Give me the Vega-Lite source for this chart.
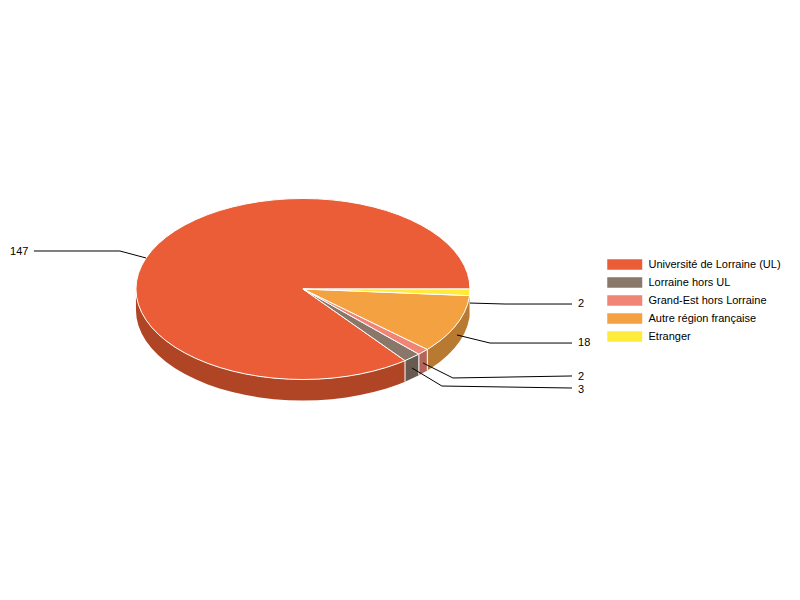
{
  "$schema": "https://vega.github.io/schema/vega-lite/v6.json",
  "autosize": {"type": "fit", "contains": "padding"},
  "width": 800,
  "height": 600,
  "padding": 0,
  "background": "white",
  "view": {"stroke": null},
  "config": {"font": "Liberation Sans"},
  "datasets": {
    "cote": [
      {"part":"UL côté","i":0,"x":0.6111,"y":0.7916},{"part":"UL côté","i":1,"x":0.5736,"y":0.8192},{"part":"UL côté","i":2,"x":0.5,"y":0.866},{"part":"UL côté","i":3,"x":0.4226,"y":0.9063},{"part":"UL côté","i":4,"x":0.342,"y":0.9397},{"part":"UL côté","i":5,"x":0.2588,"y":0.9659},{"part":"UL côté","i":6,"x":0.1736,"y":0.9848},{"part":"UL côté","i":7,"x":0.0872,"y":0.9962},{"part":"UL côté","i":8,"x":0,"y":1},{"part":"UL côté","i":9,"x":-0.0872,"y":0.9962},{"part":"UL côté","i":10,"x":-0.1736,"y":0.9848},{"part":"UL côté","i":11,"x":-0.2588,"y":0.9659},{"part":"UL côté","i":12,"x":-0.342,"y":0.9397},{"part":"UL côté","i":13,"x":-0.4226,"y":0.9063},{"part":"UL côté","i":14,"x":-0.5,"y":0.866},{"part":"UL côté","i":15,"x":-0.5736,"y":0.8192},{"part":"UL côté","i":16,"x":-0.6428,"y":0.766},{"part":"UL côté","i":17,"x":-0.7071,"y":0.7071},{"part":"UL côté","i":18,"x":-0.766,"y":0.6428},{"part":"UL côté","i":19,"x":-0.8192,"y":0.5736},{"part":"UL côté","i":20,"x":-0.866,"y":0.5},{"part":"UL côté","i":21,"x":-0.9063,"y":0.4226},{"part":"UL côté","i":22,"x":-0.9397,"y":0.342},{"part":"UL côté","i":23,"x":-0.9659,"y":0.2588},{"part":"UL côté","i":24,"x":-0.9848,"y":0.1736},{"part":"UL côté","i":25,"x":-0.9962,"y":0.0872},{"part":"UL côté","i":26,"x":-1,"y":0},
      {"part":"UL côté","i":27,"x":-1,"y":0.232},{"part":"UL côté","i":28,"x":-0.9962,"y":0.3192},{"part":"UL côté","i":29,"x":-0.9848,"y":0.4056},{"part":"UL côté","i":30,"x":-0.9659,"y":0.4908},{"part":"UL côté","i":31,"x":-0.9397,"y":0.574},{"part":"UL côté","i":32,"x":-0.9063,"y":0.6546},{"part":"UL côté","i":33,"x":-0.866,"y":0.732},{"part":"UL côté","i":34,"x":-0.8192,"y":0.8056},{"part":"UL côté","i":35,"x":-0.766,"y":0.8748},{"part":"UL côté","i":36,"x":-0.7071,"y":0.9391},{"part":"UL côté","i":37,"x":-0.6428,"y":0.998},{"part":"UL côté","i":38,"x":-0.5736,"y":1.0512},{"part":"UL côté","i":39,"x":-0.5,"y":1.098},{"part":"UL côté","i":40,"x":-0.4226,"y":1.1383},{"part":"UL côté","i":41,"x":-0.342,"y":1.1717},{"part":"UL côté","i":42,"x":-0.2588,"y":1.1979},{"part":"UL côté","i":43,"x":-0.1736,"y":1.2168},{"part":"UL côté","i":44,"x":-0.0872,"y":1.2282},{"part":"UL côté","i":45,"x":0,"y":1.232},{"part":"UL côté","i":46,"x":0.0872,"y":1.2282},{"part":"UL côté","i":47,"x":0.1736,"y":1.2168},{"part":"UL côté","i":48,"x":0.2588,"y":1.1979},{"part":"UL côté","i":49,"x":0.342,"y":1.1717},{"part":"UL côté","i":50,"x":0.4226,"y":1.1383},{"part":"UL côté","i":51,"x":0.5,"y":1.098},{"part":"UL côté","i":52,"x":0.5736,"y":1.0512},{"part":"UL côté","i":53,"x":0.6111,"y":1.0236},{"part":"UL côté","i":54,"x":0.6111,"y":0.7916},
      {"part":"hors UL côté","i":0,"x":0.694,"y":0.72},{"part":"hors UL côté","i":1,"x":0.6111,"y":0.7916},{"part":"hors UL côté","i":2,"x":0.6111,"y":1.0236},{"part":"hors UL côté","i":3,"x":0.694,"y":0.952},{"part":"hors UL côté","i":4,"x":0.694,"y":0.72},
      {"part":"Grand-Est côté","i":0,"x":0.7446,"y":0.6675},{"part":"Grand-Est côté","i":1,"x":0.694,"y":0.72},{"part":"Grand-Est côté","i":2,"x":0.694,"y":0.952},{"part":"Grand-Est côté","i":3,"x":0.7446,"y":0.8995},{"part":"Grand-Est côté","i":4,"x":0.7446,"y":0.6675},
      {"part":"Autre côté","i":0,"x":0.9973,"y":0.0731},{"part":"Autre côté","i":1,"x":0.9962,"y":0.0872},{"part":"Autre côté","i":2,"x":0.9848,"y":0.1736},{"part":"Autre côté","i":3,"x":0.9659,"y":0.2588},{"part":"Autre côté","i":4,"x":0.9397,"y":0.342},{"part":"Autre côté","i":5,"x":0.9063,"y":0.4226},{"part":"Autre côté","i":6,"x":0.866,"y":0.5},{"part":"Autre côté","i":7,"x":0.8192,"y":0.5736},{"part":"Autre côté","i":8,"x":0.766,"y":0.6428},{"part":"Autre côté","i":9,"x":0.7446,"y":0.6675},{"part":"Autre côté","i":10,"x":0.7446,"y":0.8995},{"part":"Autre côté","i":11,"x":0.766,"y":0.8748},{"part":"Autre côté","i":12,"x":0.8192,"y":0.8056},{"part":"Autre côté","i":13,"x":0.866,"y":0.732},{"part":"Autre côté","i":14,"x":0.9063,"y":0.6546},{"part":"Autre côté","i":15,"x":0.9397,"y":0.574},{"part":"Autre côté","i":16,"x":0.9659,"y":0.4908},{"part":"Autre côté","i":17,"x":0.9848,"y":0.4056},{"part":"Autre côté","i":18,"x":0.9962,"y":0.3192},{"part":"Autre côté","i":19,"x":0.9973,"y":0.3051},{"part":"Autre côté","i":20,"x":0.9973,"y":0.0731}
    ],
    "coupes": [
      {"c":"a","x":0.6111,"y":0.7916},{"c":"a","x":0.6111,"y":1.0236},
      {"c":"b","x":0.694,"y":0.72},{"c":"b","x":0.694,"y":0.952},
      {"c":"d","x":0.7446,"y":0.6675},{"c":"d","x":0.7446,"y":0.8995}
    ],
    "dessus": [
      {"part":"Université de Lorraine (UL)","i":0,"x":0,"y":0},{"part":"Université de Lorraine (UL)","i":1,"x":0.6111,"y":0.7916},{"part":"Université de Lorraine (UL)","i":2,"x":0.5736,"y":0.8192},{"part":"Université de Lorraine (UL)","i":3,"x":0.5,"y":0.866},{"part":"Université de Lorraine (UL)","i":4,"x":0.4226,"y":0.9063},{"part":"Université de Lorraine (UL)","i":5,"x":0.342,"y":0.9397},{"part":"Université de Lorraine (UL)","i":6,"x":0.2588,"y":0.9659},{"part":"Université de Lorraine (UL)","i":7,"x":0.1736,"y":0.9848},{"part":"Université de Lorraine (UL)","i":8,"x":0.0872,"y":0.9962},{"part":"Université de Lorraine (UL)","i":9,"x":0,"y":1},{"part":"Université de Lorraine (UL)","i":10,"x":-0.0872,"y":0.9962},{"part":"Université de Lorraine (UL)","i":11,"x":-0.1736,"y":0.9848},{"part":"Université de Lorraine (UL)","i":12,"x":-0.2588,"y":0.9659},{"part":"Université de Lorraine (UL)","i":13,"x":-0.342,"y":0.9397},{"part":"Université de Lorraine (UL)","i":14,"x":-0.4226,"y":0.9063},{"part":"Université de Lorraine (UL)","i":15,"x":-0.5,"y":0.866},{"part":"Université de Lorraine (UL)","i":16,"x":-0.5736,"y":0.8192},{"part":"Université de Lorraine (UL)","i":17,"x":-0.6428,"y":0.766},{"part":"Université de Lorraine (UL)","i":18,"x":-0.7071,"y":0.7071},{"part":"Université de Lorraine (UL)","i":19,"x":-0.766,"y":0.6428},{"part":"Université de Lorraine (UL)","i":20,"x":-0.8192,"y":0.5736},{"part":"Université de Lorraine (UL)","i":21,"x":-0.866,"y":0.5},{"part":"Université de Lorraine (UL)","i":22,"x":-0.9063,"y":0.4226},{"part":"Université de Lorraine (UL)","i":23,"x":-0.9397,"y":0.342},{"part":"Université de Lorraine (UL)","i":24,"x":-0.9659,"y":0.2588},{"part":"Université de Lorraine (UL)","i":25,"x":-0.9848,"y":0.1736},{"part":"Université de Lorraine (UL)","i":26,"x":-0.9962,"y":0.0872},{"part":"Université de Lorraine (UL)","i":27,"x":-1,"y":0},{"part":"Université de Lorraine (UL)","i":28,"x":-0.9962,"y":-0.0872},{"part":"Université de Lorraine (UL)","i":29,"x":-0.9848,"y":-0.1736},{"part":"Université de Lorraine (UL)","i":30,"x":-0.9659,"y":-0.2588},{"part":"Université de Lorraine (UL)","i":31,"x":-0.9397,"y":-0.342},{"part":"Université de Lorraine (UL)","i":32,"x":-0.9063,"y":-0.4226},{"part":"Université de Lorraine (UL)","i":33,"x":-0.866,"y":-0.5},{"part":"Université de Lorraine (UL)","i":34,"x":-0.8192,"y":-0.5736},{"part":"Université de Lorraine (UL)","i":35,"x":-0.766,"y":-0.6428},{"part":"Université de Lorraine (UL)","i":36,"x":-0.7071,"y":-0.7071},{"part":"Université de Lorraine (UL)","i":37,"x":-0.6428,"y":-0.766},{"part":"Université de Lorraine (UL)","i":38,"x":-0.5736,"y":-0.8192},{"part":"Université de Lorraine (UL)","i":39,"x":-0.5,"y":-0.866},{"part":"Université de Lorraine (UL)","i":40,"x":-0.4226,"y":-0.9063},{"part":"Université de Lorraine (UL)","i":41,"x":-0.342,"y":-0.9397},{"part":"Université de Lorraine (UL)","i":42,"x":-0.2588,"y":-0.9659},{"part":"Université de Lorraine (UL)","i":43,"x":-0.1736,"y":-0.9848},{"part":"Université de Lorraine (UL)","i":44,"x":-0.0872,"y":-0.9962},{"part":"Université de Lorraine (UL)","i":45,"x":0,"y":-1},{"part":"Université de Lorraine (UL)","i":46,"x":0.0872,"y":-0.9962},{"part":"Université de Lorraine (UL)","i":47,"x":0.1736,"y":-0.9848},{"part":"Université de Lorraine (UL)","i":48,"x":0.2588,"y":-0.9659},{"part":"Université de Lorraine (UL)","i":49,"x":0.342,"y":-0.9397},{"part":"Université de Lorraine (UL)","i":50,"x":0.4226,"y":-0.9063},{"part":"Université de Lorraine (UL)","i":51,"x":0.5,"y":-0.866},{"part":"Université de Lorraine (UL)","i":52,"x":0.5736,"y":-0.8192},{"part":"Université de Lorraine (UL)","i":53,"x":0.6428,"y":-0.766},{"part":"Université de Lorraine (UL)","i":54,"x":0.7071,"y":-0.7071},{"part":"Université de Lorraine (UL)","i":55,"x":0.766,"y":-0.6428},{"part":"Université de Lorraine (UL)","i":56,"x":0.8192,"y":-0.5736},{"part":"Université de Lorraine (UL)","i":57,"x":0.866,"y":-0.5},{"part":"Université de Lorraine (UL)","i":58,"x":0.9063,"y":-0.4226},{"part":"Université de Lorraine (UL)","i":59,"x":0.9397,"y":-0.342},{"part":"Université de Lorraine (UL)","i":60,"x":0.9659,"y":-0.2588},{"part":"Université de Lorraine (UL)","i":61,"x":0.9848,"y":-0.1736},{"part":"Université de Lorraine (UL)","i":62,"x":0.9962,"y":-0.0872},{"part":"Université de Lorraine (UL)","i":63,"x":1,"y":0},{"part":"Université de Lorraine (UL)","i":64,"x":0,"y":0},
      {"part":"Lorraine hors UL","i":0,"x":0,"y":0},{"part":"Lorraine hors UL","i":1,"x":0.694,"y":0.72},{"part":"Lorraine hors UL","i":2,"x":0.6111,"y":0.7916},{"part":"Lorraine hors UL","i":3,"x":0,"y":0},
      {"part":"Grand-Est hors Lorraine","i":0,"x":0,"y":0},{"part":"Grand-Est hors Lorraine","i":1,"x":0.7446,"y":0.6675},{"part":"Grand-Est hors Lorraine","i":2,"x":0.694,"y":0.72},{"part":"Grand-Est hors Lorraine","i":3,"x":0,"y":0},
      {"part":"Autre région française","i":0,"x":0,"y":0},{"part":"Autre région française","i":1,"x":0.9973,"y":0.0731},{"part":"Autre région française","i":2,"x":0.9962,"y":0.0872},{"part":"Autre région française","i":3,"x":0.9848,"y":0.1736},{"part":"Autre région française","i":4,"x":0.9659,"y":0.2588},{"part":"Autre région française","i":5,"x":0.9397,"y":0.342},{"part":"Autre région française","i":6,"x":0.9063,"y":0.4226},{"part":"Autre région française","i":7,"x":0.866,"y":0.5},{"part":"Autre région française","i":8,"x":0.8192,"y":0.5736},{"part":"Autre région française","i":9,"x":0.766,"y":0.6428},{"part":"Autre région française","i":10,"x":0.7446,"y":0.6675},{"part":"Autre région française","i":11,"x":0,"y":0},
      {"part":"Etranger","i":0,"x":0,"y":0},{"part":"Etranger","i":1,"x":1,"y":0},{"part":"Etranger","i":2,"x":0.9973,"y":0.0731},{"part":"Etranger","i":3,"x":0,"y":0}
    ],
    "renvois": [
      {"n":"UL","i":0,"x":-1.611,"y":-0.42},{"n":"UL","i":1,"x":-1.096,"y":-0.42},{"n":"UL","i":2,"x":-0.94,"y":-0.343},
      {"n":"Etranger","i":0,"x":1,"y":0.155},{"n":"Etranger","i":1,"x":1.21,"y":0.166},{"n":"Etranger","i":2,"x":1.611,"y":0.166},
      {"n":"Autre","i":0,"x":0.922,"y":0.508},{"n":"Autre","i":1,"x":1.12,"y":0.597},{"n":"Autre","i":2,"x":1.611,"y":0.597},
      {"n":"Grand-Est","i":0,"x":0.719,"y":0.818},{"n":"Grand-Est","i":1,"x":0.898,"y":0.983},{"n":"Grand-Est","i":2,"x":1.611,"y":0.961},
      {"n":"hors UL","i":0,"x":0.653,"y":0.873},{"n":"hors UL","i":1,"x":0.832,"y":1.072},{"n":"hors UL","i":2,"x":1.611,"y":1.094}
    ],
    "valeurs": [
      {"valeur":147,"x":-1.754,"y":-0.409},
      {"valeur":2,"x":1.647,"y":0.171},
      {"valeur":18,"x":1.647,"y":0.597},
      {"valeur":2,"x":1.647,"y":0.972},
      {"valeur":3,"x":1.647,"y":1.116}
    ]
  },
  "encoding": {
    "x": {"field": "x", "type": "quantitative", "axis": null, "scale": {"domain": [-1.814, 2.976], "nice": false, "zero": false}},
    "y": {"field": "y", "type": "quantitative", "axis": null, "scale": {"domain": [3.436, -3.193], "nice": false, "zero": false}}
  },
  "layer": [
    {
      "data": {"name": "cote"},
      "mark": {"type": "line", "filled": true, "strokeWidth": 0},
      "encoding": {
        "fill": {"field": "part", "type": "nominal"},
        "order": {"field": "i"}
      }
    },
    {
      "data": {"name": "coupes"},
      "mark": {"type": "line", "stroke": "white", "strokeWidth": 1},
      "encoding": {"detail": {"field": "c"}}
    },
    {
      "data": {"name": "dessus"},
      "mark": {"type": "line", "filled": true, "stroke": "white", "strokeWidth": 1},
      "encoding": {
        "fill": {
          "field": "part",
          "type": "nominal",
          "scale": {
            "domain": ["Université de Lorraine (UL)", "Lorraine hors UL", "Grand-Est hors Lorraine", "Autre région française", "Etranger", "UL côté", "hors UL côté", "Grand-Est côté", "Autre côté"],
            "range": ["#EA5D37", "#89786A", "#F08575", "#F4A141", "#FFEB3B", "#B04526", "#675A50", "#B46458", "#B77A30"]
          },
          "legend": {
            "title": null,
            "values": ["Université de Lorraine (UL)", "Lorraine hors UL", "Grand-Est hors Lorraine", "Autre région française", "Etranger"],
            "orient": "none",
            "legendX": 615.75,
            "legendY": 255.5,
            "padding": 0,
            "symbolType": "M-2,-0.6H2V0.6H-2Z",
            "symbolSize": 306,
            "symbolStrokeWidth": 0,
            "symbolOpacity": 1,
            "labelFont": "Liberation Sans",
            "labelFontSize": 11,
            "labelColor": "#000000",
            "labelOffset": 14.75,
            "labelLimit": 300,
            "rowPadding": 3
          }
        },
        "order": {"field": "i"}
      }
    },
    {
      "data": {"name": "renvois"},
      "mark": {"type": "line", "stroke": "#000000", "strokeWidth": 1},
      "encoding": {
        "detail": {"field": "n"},
        "order": {"field": "i"}
      }
    },
    {
      "data": {"name": "valeurs"},
      "mark": {"type": "text", "align": "left", "baseline": "middle", "font": "Liberation Sans", "fontSize": 11, "color": "#000000"},
      "encoding": {"text": {"field": "valeur", "type": "quantitative"}}
    }
  ]
}
